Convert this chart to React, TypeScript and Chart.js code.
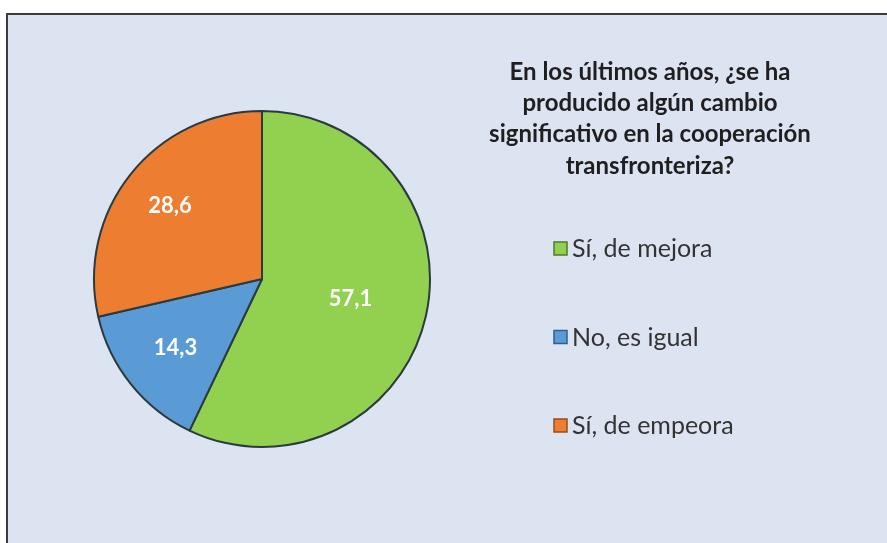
import React, { useEffect, useRef } from "react";
import { Chart, registerables } from "chart.js";

Chart.register(...registerables);

const categories = ["Sí, de mejora", "No, es igual", "Sí, de empeora"];
const values = [57.1, 14.3, 28.6];
const valueLabels = ["57,1", "14,3", "28,6"];
const colors = ["#92d050", "#5b9bd5", "#ed7d31"];
const legendBorder = ["#4f7a2a", "#2f5f8f", "#9a4d17"];
const labelRadiusFraction = [0.54, 0.66, 0.7];
const titleLines = [
  "En los últimos años, ¿se ha",
  "producido algún cambio",
  "significativo en la cooperación",
  "transfronteriza?",
];

const FONT = "Lato, 'Open Sans', sans-serif";

const overlayPlugin = {
  id: "overlay",
  afterDatasetsDraw(chart: any) {
    const ctx = chart.ctx as CanvasRenderingContext2D;
    const meta = chart.getDatasetMeta(0);
    ctx.save();
    ctx.fillStyle = "#ffffff";
    ctx.font = `bold 22px ${FONT}`;
    ctx.textAlign = "center";
    ctx.textBaseline = "middle";
    meta.data.forEach((arc: any, i: number) => {
      const p = arc.getProps(["x", "y", "startAngle", "endAngle", "outerRadius"], true);
      const mid = (p.startAngle + p.endAngle) / 2;
      const r = p.outerRadius * labelRadiusFraction[i];
      ctx.fillText(valueLabels[i], p.x + Math.cos(mid) * r, p.y + Math.sin(mid) * r);
    });
    ctx.restore();
  },
  afterDraw(chart: any) {
    const ctx = chart.ctx as CanvasRenderingContext2D;
    ctx.save();
    // title
    ctx.fillStyle = "#1f1f1f";
    ctx.font = `bold 24px ${FONT}`;
    ctx.textAlign = "center";
    ctx.textBaseline = "middle";
    titleLines.forEach((line, i) => {
      ctx.fillText(line, 650, 72 + i * 31.3);
    });
    // legend
    ctx.font = `25px ${FONT}`;
    ctx.textAlign = "left";
    categories.forEach((c, i) => {
      const y = 248 + i * 88.5;
      ctx.fillStyle = colors[i];
      ctx.fillRect(554, y - 6, 13, 13);
      ctx.strokeStyle = legendBorder[i];
      ctx.lineWidth = 1.5;
      ctx.strokeRect(554, y - 6, 13, 13);
      ctx.fillStyle = "#333333";
      ctx.fillText(c, 572, y + 1);
    });
    ctx.restore();
  },
};

export default function App() {
  const ref = useRef<HTMLCanvasElement | null>(null);
  useEffect(() => {
    if (!ref.current) return;
    const chart = new Chart(ref.current, {
      type: "pie",
      data: {
        labels: categories,
        datasets: [
          {
            data: values,
            backgroundColor: colors,
            borderColor: "#2b3a40",
            borderWidth: 2,
          },
        ],
      },
      options: {
        animation: false,
        responsive: false,
        maintainAspectRatio: false,
        layout: { padding: { left: 93, top: 110, right: 456, bottom: 95 } },
        plugins: {
          legend: { display: false },
          title: { display: false },
          tooltip: { enabled: false },
        },
      },
      plugins: [overlayPlugin],
    });
    return () => chart.destroy();
  }, []);
  return (
    <div
      style={{
        position: "absolute",
        left: 0,
        top: 0,
        width: 887,
        height: 543,
        overflow: "hidden",
        background: "#ffffff",
      }}
    >
      <div
        style={{
          position: "absolute",
          left: 6,
          top: 13,
          width: 920,
          height: 600,
          background: "#dce3f1",
          borderTop: "2px solid #3c3c3c",
          borderLeft: "2px solid #3c3c3c",
          boxShadow: "1px 1px 2px rgba(0,0,0,0.3)",
        }}
      />
      <canvas
        ref={ref}
        width={887}
        height={543}
        style={{ position: "absolute", left: 0, top: 0, width: 887, height: 543 }}
      />
    </div>
  );
}
